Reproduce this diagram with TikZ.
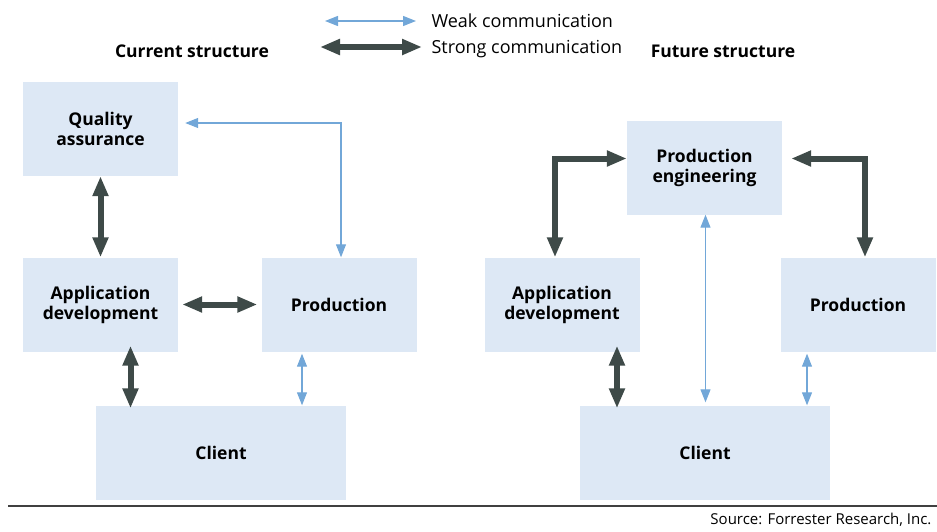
\documentclass[tikz,border=0pt]{standalone}
\usepackage{fontspec}
\setmainfont{Open Sans}
\usetikzlibrary{arrows.meta}

\definecolor{boxblue}{HTML}{DDE8F5}
\definecolor{darkarrow}{HTML}{3E4A48}
\definecolor{lightarrow}{HTML}{72A7D8}

\begin{document}
\begin{tikzpicture}[x=1pt, y=-1pt,
  box/.style    = {fill=boxblue, minimum width=155pt, minimum height=94pt,
                   inner sep=0pt, align=center,
                   font=\bfseries\fontsize{17.5}{20}\selectfont},
  widebox/.style = {box, minimum width=250pt},
  strong/.style = {darkarrow, line width=6pt,
                   {Triangle[length=20pt,width=15pt]}-{Triangle[length=20pt,width=15pt]}},
  weak/.style   = {lightarrow, line width=1.2pt,
                   {Triangle[length=13pt,width=10pt]}-{Triangle[length=13pt,width=10pt]}},
  title/.style  = {font=\bfseries\fontsize{17.5}{20}\selectfont},
  legend/.style = {font=\fontsize{18}{20}\selectfont, anchor=base west}]

\useasboundingbox (0,0) rectangle (937,531);

% legend

\coordinate (wl) at (325,21);
\coordinate (wr) at (416,21);
\coordinate (sl) at (320,47);
\coordinate (sr) at (422,47);
\draw[weak]   (wl) -- (wr);
\draw[strong] (sl) -- (sr);
\node[legend] (weaktxt)   at (428,27.5) {Weak communication};
\node[legend] (strongtxt) at (428,53.5) {Strong communication};

\node[title] (curtitle) at (192,51) {Current structure};
\node[title] (futtitle) at (723,51) {Future structure};

% current structure

\node[box]     (qa)      at (100.5,129) {Quality\\assurance};
\node[box]     (appdevL) at (100.5,304.5) {Application\\development};
\node[box]     (prodL)   at (339,304.5) {Production};
\node[widebox] (clientL) at (221,452.5) {Client};

\draw[strong] (qa) -- (appdevL);
\draw[strong, shorten <=4pt, shorten >=4pt] (appdevL) -- (prodL);
\draw[weak, shorten <=7pt] ([yshift=6pt]qa.east) -| ([xshift=2pt]prodL.north);
\draw[strong, shorten <=-6pt, shorten >=-3pt]
  ([xshift=30pt]appdevL.south) -- ([xshift=30pt]appdevL.south |- clientL.north);
\draw[weak, shorten <=2pt]
  ([xshift=-37pt]prodL.south) -- ([xshift=-37pt]prodL.south |- clientL.north);

% future structure

\node[box]     (prodeng) at (704.5,167.5) {Production\\engineering};
\node[box]     (appdevR) at (562,304.5) {Application\\development};
\node[box]     (prodR)   at (858,304.5) {Production};
\node[widebox] (clientR) at (705,452.5) {Client};

\draw[strong] ([xshift=-7pt]appdevR.north) |- ([yshift=9pt]prodeng.west);
\draw[strong, shorten <=9pt] ([yshift=9pt]prodeng.east) -| ([xshift=7pt]prodR.north);
\draw[weak, shorten >=3pt]
  ([xshift=1pt]prodeng.south) -- ([xshift=1pt]prodeng.south |- clientR.north);
\draw[strong, shorten <=-6pt, shorten >=-3pt]
  ([xshift=55pt]appdevR.south) -- ([xshift=55pt]appdevR.south |- clientR.north);
\draw[weak, shorten <=2pt]
  ([xshift=-51pt]prodR.south) -- ([xshift=-51pt]prodR.south |- clientR.north);

% source line

\coordinate (ruleL) at (8,506);
\coordinate (ruleR) at (937,506);
\draw[line width=1.2pt, black!75] (ruleL) -- (ruleR);
\node[font=\fontsize{15}{17}\selectfont, anchor=east] (source) at (935,520)
  {Source: Forrester Research, Inc.};

\end{tikzpicture}
\end{document}
